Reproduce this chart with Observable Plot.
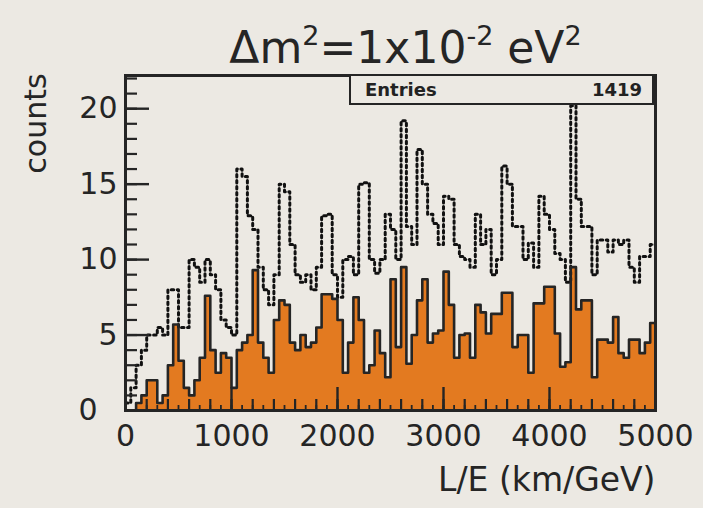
<!DOCTYPE html>
<html>
<head>
<meta charset="utf-8">
<script src="https://cdn.jsdelivr.net/npm/d3@7"></script>
<script src="https://cdn.jsdelivr.net/npm/@observablehq/plot@0.6"></script>
<style>
  html, body { margin: 0; padding: 0; background: #ece9e3; }
  #wrap { position: relative; width: 703px; height: 508px; overflow: hidden; }
  #stats { position: absolute; left: 349px; top: 74px; width: 301px; height: 27px;
           border: 2px solid #252525; background: #ece9e3; box-sizing: content-box;
           font-family: "DejaVu Sans", sans-serif; font-weight: bold; font-size: 18px; color: #222; }
  #stats .k { position: absolute; left: 14px; top: 3px; }
  #stats .v { position: absolute; right: 10px; top: 3px; }
</style>
</head>
<body>
<div id="wrap"></div>
<script>
// ---- data ----
const binWidth = 50;           // km/GeV per bin, 100 bins over 0..5000
const oscCounts = [
  0, 0, 0.5, 1, 2, 2, 0.5, 1, 3, 5.7,
  3.3, 1.5, 1, 2, 3.5, 7.6, 4, 2.5, 3.8, 3.5,
  1.5, 4, 4.5, 5, 9.3, 4.5, 3.5, 2.5, 6, 7.3,
  7, 4.5, 4, 5, 4.2, 4.5, 5.5, 7.7, 7.7, 7.4,
  6, 2.5, 4.5, 7.5, 6, 2.5, 3, 5.3, 3.8, 2.2,
  8.7, 4.2, 9.5, 3.1, 5, 7.3, 8.7, 4.5, 5.1, 5.3,
  9.2, 7, 3.5, 5, 5.1, 3.5, 7, 6.5, 5.1, 6.4,
  6.4, 7.8, 7.8, 4.2, 5, 5, 2.5, 7.1, 7.1, 8.2,
  8.2, 5.1, 2.9, 3.2, 9.5, 6.7, 7.3, 7.3, 2.2, 4.7,
  4.7, 4.5, 6.2, 3.8, 3.5, 4.7, 4.7, 3.8, 4.5, 5.8
];
const noOscCounts = [
  0.5, 1.5, 3, 4, 5, 5, 5.5, 5, 8, 8,
  5.5, 5.5, 10, 9.5, 8.5, 10, 9, 8, 6, 5.5,
  5, 16, 15.5, 12.9, 12, 9.5, 8, 7, 9, 15,
  14.5, 11, 9, 8.5, 9, 8, 9.5, 12.9, 13, 9,
  7.5, 10, 10.2, 9, 15, 15.1, 10, 9.1, 10, 13,
  12, 10, 19.2, 12.2, 11, 17.3, 15, 13, 12.4, 11,
  14.2, 14, 11, 10.2, 10, 9.5, 13, 11, 12, 9,
  10, 16.2, 15, 12.2, 12.2, 10, 11.1, 9.5, 14.2, 13,
  12, 10.4, 10, 8.5, 20.2, 14, 12.2, 12.2, 9, 11.3,
  11.3, 10.5, 11.3, 11, 11.3, 9.5, 8.5, 10.2, 10.2, 11
];
const yTickValues = [0, 5, 10, 15, 20];
const xTickValues = [0, 1000, 2000, 3000, 4000, 5000];
const titleText = "Δm2=1x10-2 eV2";
const yLabel = "counts";
const xLabel = "L/E (km/GeV)";
const entriesLabel = "Entries";
const entriesValue = "1419";

// ---- build step table ----
const steps = oscCounts.map((v, i) => ({x: i * binWidth, osc: v, noosc: noOscCounts[i]}));
steps.push({x: oscCounts.length * binWidth, osc: oscCounts[oscCounts.length - 1], noosc: noOscCounts[noOscCounts.length - 1]});

const W = 703, H = 508;
const mL = 125, mR = 48, mT = 75, mB = 98;
const fw = W - mL - mR, fh = H - mT - mB;
const ink = "#252525";

const chart = Plot.plot({
  width: W, height: H,
  marginLeft: mL, marginRight: mR, marginTop: mT, marginBottom: mB,
  style: {background: "transparent", fontFamily: "DejaVu Sans, sans-serif", color: ink, overflow: "visible"},
  x: {domain: [0, 5000]},
  y: {domain: [0, 22.2]},
  marks: [
    Plot.areaY(steps, {x: "x", y: "osc", curve: "step-after", fill: "#e37a20"}),
    Plot.lineY(steps, {x: "x", y: "noosc", curve: "step-after", stroke: "#111", strokeWidth: 3, strokeDasharray: "2.5,3.5"}),
    Plot.lineY(steps, {x: "x", y: "osc", curve: "step-after", stroke: ink, strokeWidth: 2.6}),
    // y ticks (inward)
    Plot.tickY(d3.range(0, 23, 1), {y: d => d, insetRight: fw - 12, stroke: ink, strokeWidth: 2.2}),
    Plot.tickY(yTickValues, {y: d => d, insetRight: fw - 24, stroke: ink, strokeWidth: 2.4}),
    // x ticks (inward)
    Plot.tickX(d3.range(0, 5001, 100), {x: d => d, insetTop: fh - 5, stroke: ink, strokeWidth: 1.8}),
    Plot.tickX(d3.range(0, 5001, 200), {x: d => d, insetTop: fh - 11, stroke: ink, strokeWidth: 2.2}),
    Plot.tickX(xTickValues, {x: d => d, insetTop: fh - 23, stroke: ink, strokeWidth: 2.4}),
    Plot.frame({stroke: ink, strokeWidth: 3}),
    Plot.axisY(yTickValues.filter(d => d > 0), {tickSize: 0, tickPadding: 8, fontSize: 30, label: null}),
    Plot.axisY(yTickValues.filter(d => d === 0), {tickSize: 0, tickPadding: 28, fontSize: 30, label: null}),
    Plot.axisX(xTickValues, {tickSize: 0, tickPadding: 14, fontSize: 30, label: null, tickFormat: d => String(d)}),
    Plot.text([yLabel], {frameAnchor: "top-left", textAnchor: "middle", lineAnchor: "middle", dx: -89, dy: 48, rotate: -90, fontSize: 30, fill: ink}),
    Plot.text([xLabel], {frameAnchor: "bottom-right", textAnchor: "end", lineAnchor: "top", dy: 57, fontSize: 33, fill: ink}),
    Plot.text([titleText], {frameAnchor: "top", dx: 15, dy: -13, lineAnchor: "bottom", fontSize: 44, fill: ink})
  ]
});

// superscripts in the title
d3.select(chart).selectAll("text").filter(function() { return this.textContent === titleText; }).each(function() {
  const t = d3.select(this);
  t.text(null);
  const parts = [["Δm", 0, 44], ["2", -18, 27], ["=1x10", 18, 44], ["-2", -18, 27], [" eV", 18, 44], ["2", -18, 27]];
  for (const [s, dy, fs] of parts) t.append("tspan").attr("dy", dy).attr("font-size", fs).text(s);
});

const wrap = document.getElementById("wrap");
wrap.appendChild(chart);
const stats = document.createElement("div");
stats.id = "stats";
stats.innerHTML = `<span class="k">${entriesLabel}</span><span class="v">${entriesValue}</span>`;
wrap.appendChild(stats);
</script>
</body>
</html>
